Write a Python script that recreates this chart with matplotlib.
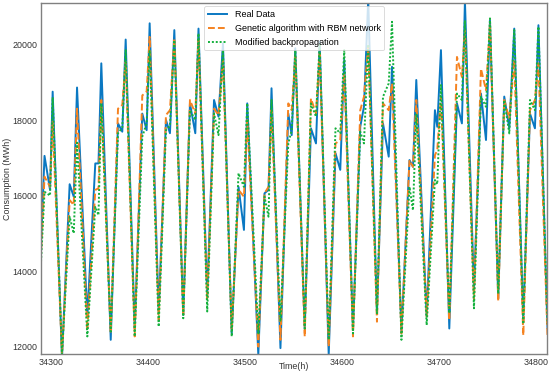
import matplotlib
matplotlib.use("Agg")
import matplotlib.pyplot as plt

hours = [
    34286.4, 34293.4, 34299.1, 34301.8,
    34311.4, 34319.3, 34323.5, 34326.9,
    34337.5, 34345.7, 34349.0, 34351.9,
    34361.6, 34369.1, 34373.5, 34377.0,
    34386.3, 34394.1, 34398.6, 34401.7,
    34411.0, 34418.5, 34422.6, 34427.1,
    34436.3, 34443.2, 34448.7, 34452.0,
    34461.0, 34468.0, 34472.6, 34477.2,
    34486.2, 34493.2, 34498.8, 34502.2,
    34513.6, 34520.0, 34524.1, 34527.2,
    34536.4, 34544.5, 34548.0, 34551.7,
    34561.4, 34567.8, 34573.0, 34576.8,
    34586.1, 34593.1, 34598.0, 34602.1,
    34611.1, 34618.6, 34622.4, 34626.8,
    34635.8, 34642.0, 34647.9, 34651.3,
    34661.0, 34669.3, 34672.9, 34676.3,
    34687.0, 34695.5, 34697.9, 34701.7,
    34710.3, 34718.2, 34723.3, 34726.4,
    34735.7, 34742.9, 34748.1, 34752.2,
    34760.7, 34766.9, 34772.1, 34777.2,
    34786.5, 34793.4, 34798.5, 34802.1,
    34811.4,
]

real_data = [
    12500, 17050, 16150, 18750,
    11700, 16300, 15970, 18860,
    12790, 16850, 16850, 19500,
    12180, 17910, 17690, 20130,
    12480, 18170, 17730, 20560,
    12930, 18000, 17650, 20380,
    12840, 18440, 17650, 20420,
    13370, 18530, 18090, 20030,
    12350, 16230, 15090, 18440,
    11780, 16060, 16150, 18840,
    11960, 18170, 17600, 19900,
    12480, 17780, 17380, 20070,
    11780, 17120, 16680, 19590,
    12440, 17820, 18350, 21200,
    12880, 17910, 17030, 19410,
    12400, 16940, 16760, 19060,
    12800, 18260, 17820, 19850,
    12480, 18440, 17910, 21150,
    13500, 18700, 17470, 20640,
    13280, 18620, 17780, 20420,
    12700, 18170, 17780, 20510,
    12500,
]

ga_rbm = [
    12500, 16500, 16230, 17960,
    11780, 15880, 15750, 18300,
    12440, 16150, 16190, 18530,
    12350, 18300, 18400, 19540,
    12270, 18650, 18750, 20200,
    12700, 18130, 18260, 20160,
    12800, 18530, 18170, 20110,
    13230, 18300, 18130, 19590,
    12440, 16150, 15970, 18000,
    12000, 16060, 16230, 18260,
    12180, 18440, 18260, 19670,
    12270, 18570, 18170, 19760,
    12000, 17380, 17470, 19230,
    12270, 18260, 18615, 19940,
    12660, 18440, 18260, 18970,
    12350, 16940, 16760, 18530,
    12800, 17070, 17200, 18615,
    12700, 19670, 19140, 20380,
    13230, 19360, 18790, 20550,
    13200, 18530, 18040, 19590,
    12300, 18260, 18530, 19500,
    12300,
]

modified_bp = [
    12500, 16100, 16000, 18600,
    11800, 15440, 15000, 17400,
    12270, 15700, 15480, 18440,
    12400, 17650, 17800, 19850,
    12270, 17560, 17910, 19850,
    12530, 17730, 17850, 20110,
    12750, 18260, 18000, 20290,
    12930, 18170, 17600, 19850,
    12270, 16590, 16230, 18440,
    12350, 15970, 15440, 18530,
    12660, 17380, 17730, 19850,
    12480, 18440, 18090, 20030,
    12180, 17780, 17650, 19850,
    12350, 17690, 17380, 20000,
    12880, 18615, 18970, 20600,
    12180, 16230, 15610, 18170,
    12570, 16410, 16300, 18925,
    12880, 18700, 18530, 20640,
    13015, 18615, 18350, 20690,
    13400, 18530, 17645, 20380,
    12600, 18530, 18260, 20470,
    12600,
]

x_ticks = [34300, 34400, 34500, 34600, 34700, 34800]
y_ticks = [12000, 14000, 16000, 18000, 20000]

plt.rcParams['font.family'] = ['Liberation Sans', 'DejaVu Sans']

fig = plt.figure(figsize=(5.5, 3.74), dpi=100)
ax = fig.add_axes([0.0751, 0.0527, 0.9194, 0.938])

ax.plot(hours, real_data, color='#0a78c2', lw=1.4, ls='-', label='Real Data')
ax.plot(hours, ga_rbm, color='#f58220', lw=1.4, ls=(0, (3.5, 1.6)), label='Genetic algorithm with RBM network')
ax.plot(hours, modified_bp, color='#14b03c', lw=1.4, ls=(0, (1, 1)), label='Modified backpropagation')

ax.set_xlim(34290.1, 34810.9)
ax.set_ylim(11797, 21085)
ax.set_xticks(x_ticks)
ax.set_yticks(y_ticks)
ax.tick_params(axis='both', length=0, labelsize=6.4, colors='#333333', pad=3)
for s in ax.spines.values():
    s.set_color('#808080')
    s.set_linewidth(1.0)

ax.set_xlabel('Time(h)', fontsize=6.4, color='#333333', va='center')
ax.xaxis.set_label_coords(0.5, -0.036)
ax.set_ylabel('Consumption (MWh)', fontsize=6.4, color='#333333', va='center')
ax.yaxis.set_label_coords(-0.066, 0.5)

leg = ax.legend(loc='upper center', bbox_to_anchor=(0.5, 1.0), fontsize=6.5,
                frameon=True, fancybox=True, handlelength=2.2, labelspacing=0.55,
                borderpad=0.4, borderaxespad=0.3)
leg.get_frame().set_edgecolor('#cccccc')
leg.get_frame().set_linewidth(0.6)

fig.savefig('out.png', dpi=100)
